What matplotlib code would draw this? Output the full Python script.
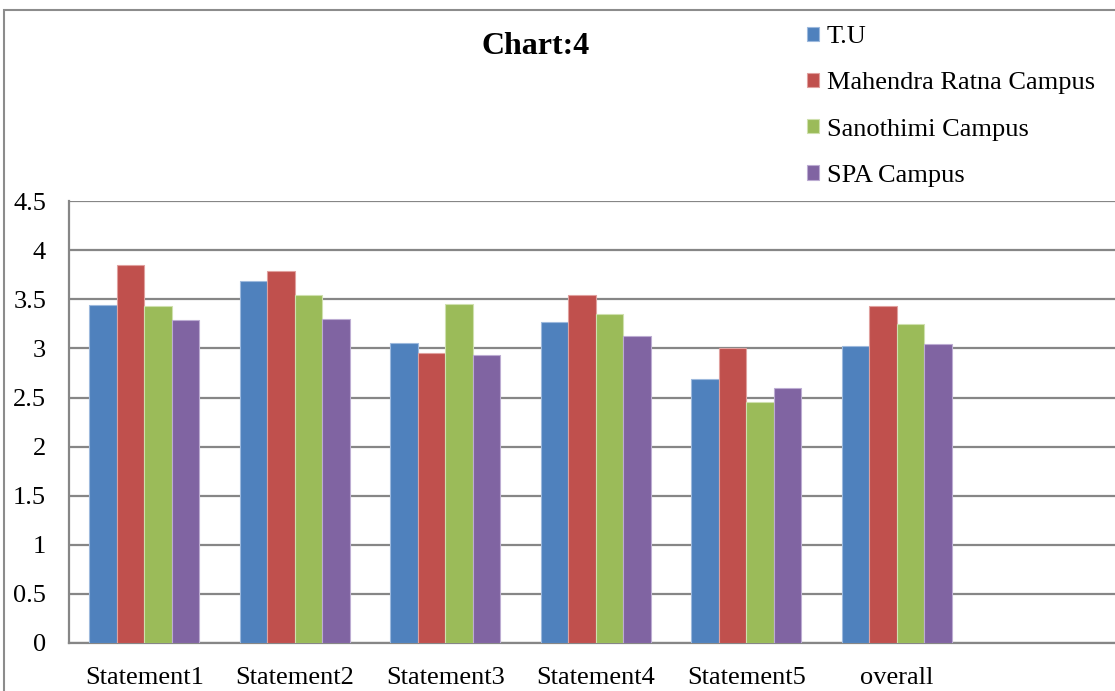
import numpy as np
import matplotlib
matplotlib.use("Agg")
import matplotlib.pyplot as plt
from matplotlib.patches import Rectangle
from matplotlib.ticker import FuncFormatter

plt.rcParams["font.family"] = ["Liberation Serif", "DejaVu Serif"]

categories = ["Statement1", "Statement2", "Statement3", "Statement4", "Statement5", "overall"]
series = ["T.U", "Mahendra Ratna Campus", "Sanothimi Campus", "SPA Campus"]
tu = [3.44, 3.69, 3.06, 3.27, 2.69, 3.03]
mrc = [3.85, 3.79, 2.95, 3.55, 3.00, 3.43]
sanothimi = [3.43, 3.55, 3.45, 3.35, 2.45, 3.25]
spa = [3.29, 3.30, 2.93, 3.13, 2.60, 3.05]
colors = ["#4F81BD", "#C0504D", "#9BBB59", "#8064A2"]
edges = ["#9DB9DD", "#E0A09E", "#CFE0AE", "#BCACD2"]

W, H = 1115, 691
fig = plt.figure(figsize=(W / 100, H / 100), dpi=100)
fig.patch.set_facecolor("white")

# plot area: 7 category slots, the last one empty and running past the edge
slot = 150.5
left, right = 69, 69 + 7 * slot
top, bottom = 201.5, 642.5
ax = fig.add_axes([left / W, (H - bottom) / H, (right - left) / W, (bottom - top) / H])

x = np.arange(len(categories))
bw = 0.183
for i, (vals, c, ec) in enumerate(zip([tu, mrc, sanothimi, spa], colors, edges)):
    ax.bar(x + (i - 1.5) * bw, vals, width=bw, color=c, edgecolor=ec,
           linewidth=0.8, label=series[i], zorder=3)

ax.set_xlim(-0.5, 6.5)
ax.set_ylim(0, 4.5)
ax.set_yticks(np.arange(0, 4.51, 0.5))
ax.yaxis.set_major_formatter(FuncFormatter(lambda v, _: f"{v:g}"))
ax.set_xticks(x)
ax.set_xticklabels(categories)
ax.tick_params(axis="both", length=0, labelsize=19)
ax.tick_params(axis="y", pad=16.5)
ax.tick_params(axis="x", pad=18)
ax.grid(axis="y", color="#868686", linewidth=1.6, zorder=0)
for s in ["top", "right"]:
    ax.spines[s].set_visible(False)
for s in ["left", "bottom"]:
    ax.spines[s].set_color("#868686")
    ax.spines[s].set_linewidth(1.6)

fig.text(536 / W, 1 - 46 / H, "Chart:4", ha="center", va="center",
         fontsize=23, fontweight="bold")

handles, labels = ax.get_legend_handles_labels()
fig.legend(handles, labels, loc="upper left", bbox_to_anchor=(807 / W, 1 - 26 / H),
           frameon=False, prop={"family": "Liberation Serif", "size": 19},
           handlelength=0.45, handleheight=0.45,
           handletextpad=0.3, labelspacing=0.92, borderpad=0, borderaxespad=0)

# outer chart frame
fig.add_artist(Rectangle((4 / W, -0.1), 1.2, (H - 10) / H + 0.1,
                         transform=fig.transFigure, fill=False,
                         edgecolor="#8c8c8c", linewidth=1.5))

fig.savefig("out.png", dpi=100)
